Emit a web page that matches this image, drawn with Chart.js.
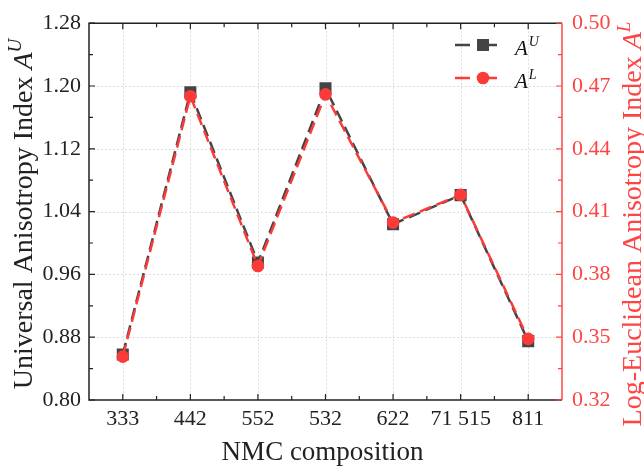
<!DOCTYPE html>
<html>
<head>
<meta charset="utf-8">
<script src="https://cdn.jsdelivr.net/npm/chart.js@4/dist/chart.umd.min.js"></script>
<style>
html,body{margin:0;padding:0;background:#fff;}
#wrap{width:644px;height:468px;position:relative;}
</style>
</head>
<body>
<div id="wrap"><canvas id="c" width="644" height="468"></canvas></div>
<script>
const categories = ['333', '442', '552', '532', '622', '71 515', '811'];
const auValues = [0.858, 1.192, 0.975, 1.197, 1.024, 1.061, 0.875];
const alValues = [0.3407, 0.4651, 0.384, 0.466, 0.4048, 0.418, 0.3492];
const leftTicks = [0.80, 0.88, 0.96, 1.04, 1.12, 1.20, 1.28];
const rightTicks = [0.32, 0.35, 0.38, 0.41, 0.44, 0.47, 0.50];
const xTitle = 'NMC composition';
const leftTitle = 'Universal Anisotropy Index ';
const rightTitle = 'Log-Euclidean Anisotropy Index ';
const seriesSymbol = 'A';
const auSup = 'U';
const alSup = 'L';

const GRAY = '#444444';
const RED = '#fb3a3a';
const AXRED = '#ff4444';
const FONT = '"Liberation Serif", "Times New Roman", serif';

function richWidth(ctx, parts) {
  let w = 0;
  for (const p of parts) { ctx.font = p.font; w += ctx.measureText(p.text).width; }
  return w;
}
function drawRich(ctx, parts, cx, cy, rot, color) {
  ctx.save();
  ctx.translate(cx, cy);
  ctx.rotate(rot);
  ctx.fillStyle = color;
  ctx.textBaseline = 'alphabetic';
  ctx.textAlign = 'left';
  const w = richWidth(ctx, parts);
  let x = -w / 2;
  for (const p of parts) {
    ctx.font = p.font;
    ctx.fillText(p.text, x, -(p.rise || 0));
    x += ctx.measureText(p.text).width;
  }
  ctx.restore();
}

const decor = {
  id: 'decor',
  beforeDatasetsDraw(chart) {
    const ctx = chart.ctx, a = chart.chartArea;
    const x = chart.scales.x, y = chart.scales.y;
    ctx.save();
    ctx.strokeStyle = '#dcdcdc';
    ctx.lineWidth = 1;
    ctx.setLineDash([2, 2]);
    leftTicks.forEach((v, i) => {
      if (i === 0 || i === leftTicks.length - 1) return;
      const py = Math.round(y.getPixelForValue(v)) + 0.5;
      ctx.beginPath(); ctx.moveTo(a.left, py); ctx.lineTo(a.right, py); ctx.stroke();
    });
    categories.forEach((c, i) => {
      const px = Math.round(x.getPixelForValue(i)) + 0.5;
      ctx.beginPath(); ctx.moveTo(px, a.top); ctx.lineTo(px, a.bottom); ctx.stroke();
    });
    ctx.restore();
  },
  afterDatasetsDraw(chart) {
    const ctx = chart.ctx, a = chart.chartArea;
    const x = chart.scales.x, y = chart.scales.y, y1 = chart.scales.y1;
    const MAJ = 6, MIN = 4;
    ctx.save();
    ctx.setLineDash([]);
    ctx.lineWidth = 1.5;
    ctx.strokeStyle = '#222';
    ctx.beginPath();
    ctx.moveTo(a.right, a.top); ctx.lineTo(a.left, a.top); ctx.lineTo(a.left, a.bottom); ctx.lineTo(a.right, a.bottom);
    ctx.stroke();
    ctx.lineWidth = 1.2;
    ctx.beginPath();
    leftTicks.forEach((v, i) => {
      const py = y.getPixelForValue(v);
      ctx.moveTo(a.left, py); ctx.lineTo(a.left + MAJ, py);
      if (i < leftTicks.length - 1) {
        const pm = y.getPixelForValue((v + leftTicks[i + 1]) / 2);
        ctx.moveTo(a.left, pm); ctx.lineTo(a.left + MIN, pm);
      }
    });
    categories.forEach((c, i) => {
      const px = x.getPixelForValue(i);
      ctx.moveTo(px, a.bottom); ctx.lineTo(px, a.bottom - MAJ);
      ctx.moveTo(px, a.top); ctx.lineTo(px, a.top + MAJ);
      if (i < categories.length - 1) {
        const pm = x.getPixelForValue(i + 0.5);
        ctx.moveTo(pm, a.bottom); ctx.lineTo(pm, a.bottom - MIN);
        ctx.moveTo(pm, a.top); ctx.lineTo(pm, a.top + MIN);
      }
    });
    ctx.stroke();
    ctx.strokeStyle = AXRED;
    ctx.lineWidth = 1.5;
    ctx.beginPath(); ctx.moveTo(a.right, a.top); ctx.lineTo(a.right, a.bottom); ctx.stroke();
    ctx.lineWidth = 1.2;
    ctx.beginPath();
    rightTicks.forEach((v, i) => {
      const py = y1.getPixelForValue(v);
      ctx.moveTo(a.right, py); ctx.lineTo(a.right - MAJ, py);
      if (i < rightTicks.length - 1) {
        const pm = y1.getPixelForValue((v + rightTicks[i + 1]) / 2);
        ctx.moveTo(a.right, pm); ctx.lineTo(a.right - MIN, pm);
      }
    });
    ctx.stroke();
    ctx.restore();
  },
  afterDraw(chart) {
    const ctx = chart.ctx, a = chart.chartArea;
    const tf = '28px ' + FONT, tfi = 'italic 28px ' + FONT, tfs = 'italic 19px ' + FONT;
    drawRich(ctx, [
      { text: leftTitle, font: tf },
      { text: seriesSymbol, font: tfi },
      { text: auSup, font: tfs, rise: 11 }
    ], 32, 214, -Math.PI / 2, '#222');
    drawRich(ctx, [
      { text: rightTitle, font: tf },
      { text: seriesSymbol, font: tfi },
      { text: alSup, font: tfs, rise: 11 }
    ], 641, 224, -Math.PI / 2, AXRED);
    drawRich(ctx, [{ text: xTitle, font: '27px ' + FONT }], (a.left + a.right) / 2 - 3, 460, 0, '#222');

    const rows = [
      { color: GRAY, style: 'rect', sup: auSup, y: 45 },
      { color: RED, style: 'circle', sup: alSup, y: 78 }
    ];
    ctx.save();
    rows.forEach(r => {
      ctx.strokeStyle = r.color;
      ctx.lineWidth = 2.5;
      ctx.setLineDash([]);
      ctx.beginPath();
      ctx.moveTo(455, r.y); ctx.lineTo(470, r.y);
      ctx.moveTo(477, r.y); ctx.lineTo(497, r.y);
      ctx.stroke();
      ctx.fillStyle = r.color;
      if (r.style === 'rect') {
        ctx.fillRect(477, r.y - 6, 12, 12);
      } else {
        ctx.beginPath(); ctx.arc(483, r.y, 6.3, 0, Math.PI * 2); ctx.fill();
      }
      ctx.fillStyle = '#111';
      ctx.textBaseline = 'alphabetic';
      ctx.textAlign = 'left';
      ctx.font = 'italic 21px ' + FONT;
      ctx.fillText(seriesSymbol, 515, r.y + 10);
      const w = ctx.measureText(seriesSymbol).width;
      ctx.font = 'italic 14px ' + FONT;
      ctx.fillText(r.sup, 515 + w + 1, r.y + 1);
    });
    ctx.restore();
  }
};

new Chart(document.getElementById('c'), {
  type: 'line',
  data: {
    labels: categories,
    datasets: [
      {
        label: 'AU',
        data: auValues,
        yAxisID: 'y',
        borderColor: GRAY,
        backgroundColor: GRAY,
        borderWidth: 2.5,
        borderDash: [12, 6],
        pointStyle: 'rect',
        pointRadius: 8.5,
        pointBorderWidth: 0,
        pointHoverRadius: 8.5,
        tension: 0,
        order: 2
      },
      {
        label: 'AL',
        data: alValues,
        yAxisID: 'y1',
        borderColor: RED,
        backgroundColor: RED,
        borderWidth: 2.5,
        borderDash: [12, 6],
        pointStyle: 'circle',
        pointRadius: 6.3,
        pointBorderWidth: 0,
        pointHoverRadius: 6.3,
        tension: 0,
        order: 1
      }
    ]
  },
  options: {
    responsive: false,
    animation: false,
    devicePixelRatio: 1,
    layout: { padding: { top: 18, left: 0, right: 0, bottom: 0 } },
    plugins: { legend: { display: false }, tooltip: { enabled: false } },
    scales: {
      x: {
        type: 'category',
        offset: true,
        grid: { display: false, drawTicks: false },
        border: { display: false },
        ticks: { color: '#222', font: { family: FONT, size: 22 }, padding: 6, maxRotation: 0, autoSkip: false },
        afterFit(s) { s.height = 68; }
      },
      y: {
        position: 'left',
        min: 0.80, max: 1.28,
        afterBuildTicks(s) { s.ticks = leftTicks.map(v => ({ value: v })); },
        grid: { display: false, drawTicks: false },
        border: { display: false },
        ticks: { color: '#222', font: { family: FONT, size: 22 }, padding: 8, callback: v => Number(v).toFixed(2) },
        afterFit(s) { s.width = 89; }
      },
      y1: {
        position: 'right',
        min: 0.32, max: 0.50,
        afterBuildTicks(s) { s.ticks = rightTicks.map(v => ({ value: v })); },
        grid: { display: false, drawTicks: false },
        border: { display: false },
        ticks: { color: AXRED, font: { family: FONT, size: 22 }, padding: 10, callback: v => Number(v).toFixed(2) },
        afterFit(s) { s.width = 82; }
      }
    }
  },
  plugins: [decor]
});
</script>
</body>
</html>
